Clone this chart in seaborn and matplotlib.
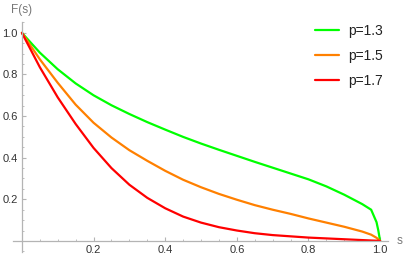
import matplotlib
matplotlib.use('Agg')
import matplotlib.pyplot as plt
from matplotlib.ticker import MultipleLocator
import seaborn as sns
import pandas as pd

# values
s = [0, 0.05, 0.10, 0.15, 0.20, 0.25, 0.30, 0.35, 0.40, 0.45, 0.50, 0.55,
     0.60, 0.65, 0.70, 0.75, 0.80, 0.85, 0.90, 0.95, 0.975, 0.99, 0.995, 1.0]
f_13 = [1.000, 0.905, 0.825, 0.757, 0.700, 0.652, 0.610, 0.571, 0.535, 0.500, 0.468, 0.438,
        0.409, 0.380, 0.352, 0.324, 0.296, 0.262, 0.222, 0.177, 0.150, 0.090, 0.050, 0.0]
f_15 = [1.000, 0.873, 0.760, 0.655, 0.568, 0.497, 0.436, 0.385, 0.337, 0.294, 0.258, 0.226,
        0.198, 0.172, 0.150, 0.130, 0.108, 0.088, 0.068, 0.045, 0.030, 0.015, 0.008, 0.0]
f_17 = [1.000, 0.835, 0.690, 0.562, 0.447, 0.350, 0.270, 0.207, 0.157, 0.117, 0.088, 0.066,
        0.050, 0.037, 0.028, 0.022, 0.016, 0.012, 0.008, 0.004, 0.002, 0.001, 0.0005, 0.0]
labels = ['p=1.3', 'p=1.5', 'p=1.7']
colors = ['#00ff00', '#ff8000', '#ff0000']

df = pd.concat([
    pd.DataFrame({'s': s, 'F': f, 'p': lab})
    for f, lab in zip([f_13, f_15, f_17], labels)
])

sns.set_theme(style='white')
plt.rcParams['font.family'] = ['Liberation Sans', 'DejaVu Sans']

fig = plt.figure(figsize=(4.05, 2.6), dpi=100)
ax = fig.add_axes([0.032, 0.031, 0.926, 0.885])
sns.lineplot(data=df, x='s', y='F', hue='p', palette=colors, linewidth=1.6,
             ax=ax, sort=False)

ax.set_xlim(-0.025, 1.022)
ax.set_ylim(-0.053, 1.053)
ax.set_xlabel('')
ax.set_ylabel('')

gray = '#b4b4b4'
for side in ['top', 'right']:
    ax.spines[side].set_visible(False)
ax.spines['left'].set_position(('data', 0))
ax.spines['bottom'].set_position(('data', 0))
for side in ['left', 'bottom']:
    ax.spines[side].set_color(gray)
    ax.spines[side].set_linewidth(0.9)

ax.set_xticks([0.2, 0.4, 0.6, 0.8, 1.0])
ax.set_yticks([0.2, 0.4, 0.6, 0.8, 1.0])
ax.set_xticklabels(['0.2', '0.4', '0.6', '0.8', '1.0'])
ax.set_yticklabels(['0.2', '0.4', '0.6', '0.8', '1.0'])
ax.xaxis.set_minor_locator(MultipleLocator(0.05))
ax.yaxis.set_minor_locator(MultipleLocator(0.05))
ax.tick_params(which='major', direction='in', length=3.0, width=0.8, color=gray,
               labelsize=8, labelcolor='#333333', pad=3)
ax.tick_params(which='minor', direction='in', length=1.7, width=0.6, color=gray)
ax.tick_params(axis='x', which='both', bottom=True)
ax.tick_params(axis='y', which='both', left=True)

ax.annotate('F(s)', xy=(0, 1.053), xytext=(0, 4), textcoords='offset points',
            ha='center', va='bottom', fontsize=8.5, color='#777777',
            annotation_clip=False)
ax.annotate('s', xy=(1.022, 0), xytext=(6, 0), textcoords='offset points',
            ha='left', va='center', fontsize=8.5, color='#777777',
            annotation_clip=False)

leg = ax.legend(frameon=False, loc='upper left', bbox_to_anchor=(0.79, 1.015),
                fontsize=10, handlelength=1.75, handletextpad=0.65,
                labelspacing=0.8, borderaxespad=0)
for t in leg.get_texts():
    t.set_color('#222222')

plt.savefig('out.png', dpi=100)
